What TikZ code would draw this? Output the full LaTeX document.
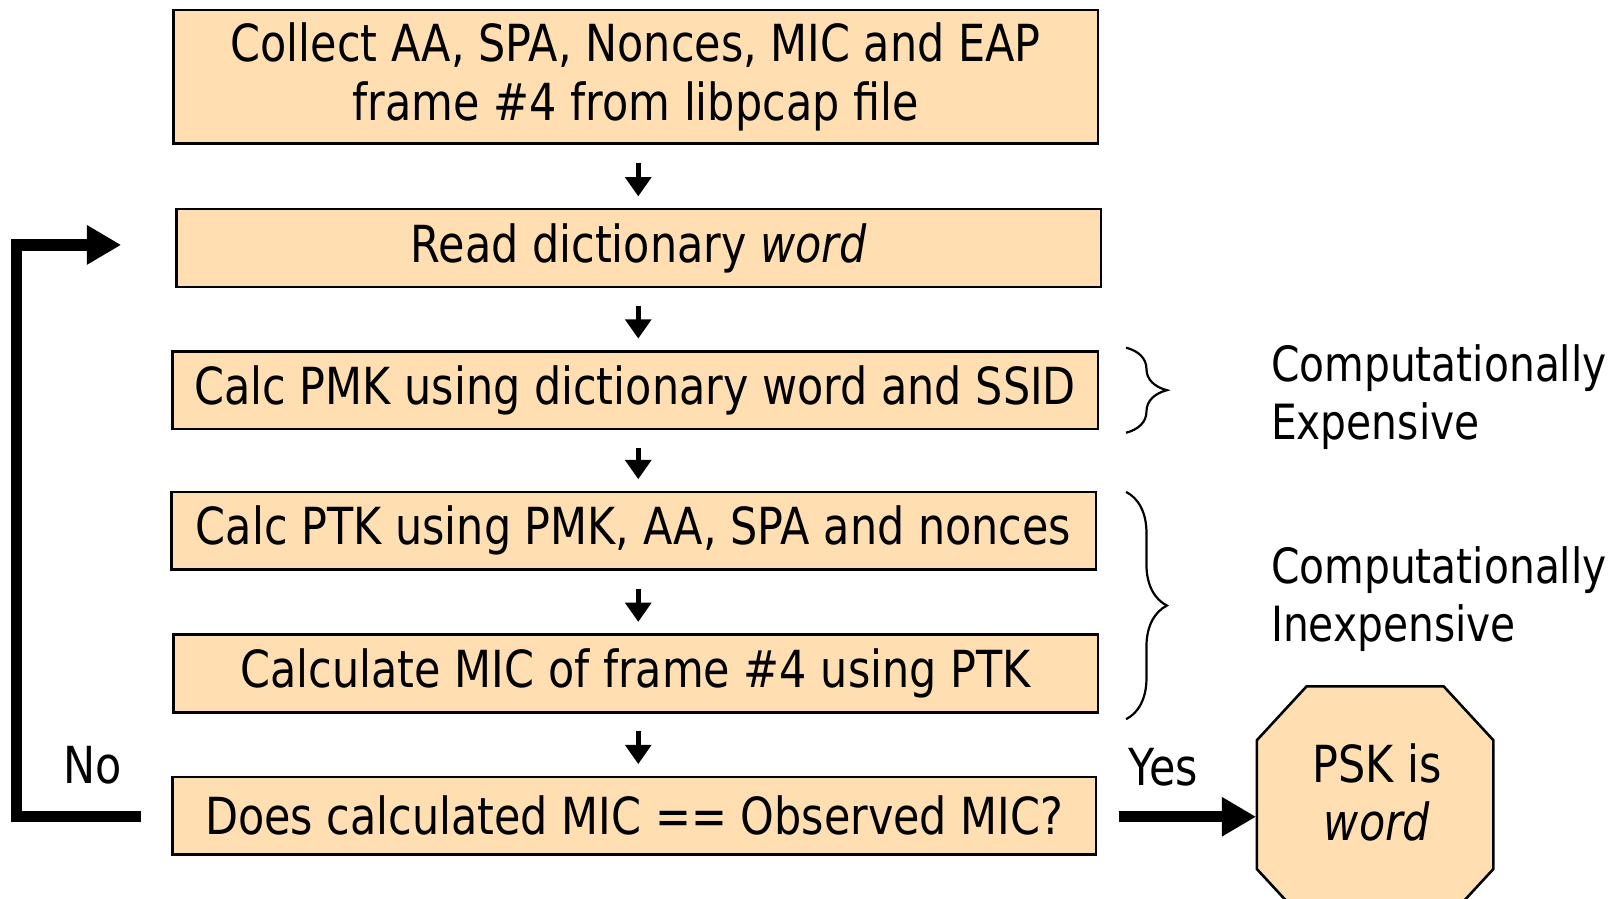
\documentclass[tikz,border=0pt]{standalone}
\usepackage{fontspec}
\setmainfont{DejaVu Sans}[FakeStretch=0.84]
\usetikzlibrary{arrows.meta,calc,decorations.pathreplacing}
\definecolor{boxfill}{RGB}{255,223,178}
\begin{document}
\begin{tikzpicture}[x=0.01cm,y=0.01cm,
  txt/.style={font=\fontsize{14pt}{16pt}\selectfont, inner sep=0pt},
  sidetxt/.style={font=\fontsize{13.3pt}{16pt}\selectfont, inner sep=0pt, anchor=west, align=left},
  stepbox/.style={txt, draw=black, line width=0.7pt, fill=boxfill, minimum height=75*0.01cm, align=center},
  smallarrow/.style={line width=1.3pt, -{Triangle[width=7pt,length=5.3pt]}, shorten <=0.17cm, shorten >=0.11cm},
  bigarrow/.style={line width=3.1pt, -{Triangle[width=10.2pt,length=9.4pt]}},
  bracestyle/.style={line width=0.6pt, decorate, decoration={brace, amplitude=11.2pt}}
]
\useasboundingbox (0,0) rectangle (1560,865.3);

\node[stepbox, minimum width=891*0.01cm, minimum height=129*0.01cm] (b1) at (612.5,791.3)
  {Collect AA, SPA, Nonces, MIC and EAP\\frame \#4 from libpcap file};
\node[stepbox, minimum width=891*0.01cm] (b2) at (615.5,626.3) {Read dictionary \textit{word}};
\node[stepbox, minimum width=892*0.01cm] (b3) at (612,489.3) {Calc PMK using dictionary word and SSID};
\node[stepbox, minimum width=891*0.01cm] (b4) at (610.5,353.8) {Calc PTK using PMK, AA, SPA and nonces};
\node[stepbox, minimum width=891*0.01cm] (b5) at (612.5,216.3) {Calculate MIC of frame \#4 using PTK};
\node[stepbox, minimum width=890*0.01cm] (b6) at (611,79.3) {Does calculated MIC == Observed MIC?};

\draw[smallarrow] (b1.south -| 615,0) -- (b2.north -| 615,0);
\draw[smallarrow] (b2.south -| 615,0) -- (b3.north -| 615,0);
\draw[smallarrow] (b3.south -| 615,0) -- (b4.north -| 615,0);
\draw[smallarrow] (b4.south -| 615,0) -- (b5.north -| 615,0);
\draw[smallarrow] (b5.south -| 615,0) -- (b6.north -| 615,0);

% octagon result node
\node[minimum width=228*0.01cm, minimum height=228*0.01cm, inner sep=0pt] (psk) at (1325,90) {};
\fill[boxfill] ($(psk.center)+(-66,114)$) -- ($(psk.center)+(66,114)$) -- ($(psk.center)+(114,62)$) -- ($(psk.center)+(114,-62)$) -- ($(psk.center)+(66,-114)$) -- ($(psk.center)+(-66,-114)$) -- ($(psk.center)+(-114,-62)$) -- ($(psk.center)+(-114,62)$) -- cycle;
\draw[line width=0.7pt] ($(psk.center)+(-66,114)$) -- ($(psk.center)+(66,114)$) -- ($(psk.center)+(114,62)$) -- ($(psk.center)+(114,-62)$) -- ($(psk.center)+(66,-114)$) -- ($(psk.center)+(-66,-114)$) -- ($(psk.center)+(-114,-62)$) -- ($(psk.center)+(-114,62)$) -- cycle;
\node[txt, align=center] (psktext) at ($(psk.center)+(2,12)$) {PSK is\\\textit{word}};

% loop back (No)
\coordinate (noStart) at ($(b6.west)+(-29,-1)$);
\coordinate (noEnd) at ($(b2.west)+(-52,3)$);
\coordinate (loopX) at (16,0);
\draw[bigarrow] (noStart) -- (noStart -| loopX) -- (noEnd -| loopX) -- (noEnd);
\node[txt, anchor=base] (nolabel) at (89.5,110.3) {No};

% Yes arrow
\coordinate (yesStart) at ($(b6.east)+(21,-1)$);
\draw[bigarrow] (yesStart) -- (yesStart -| psk.west);
\node[txt, anchor=base] (yeslabel) at (1121,108.3) {Yes};

% braces
\coordinate (br1t) at (1085,530.3);
\coordinate (br1b) at (1085,448.3);
\coordinate (br2t) at (1085,391.3);
\coordinate (br2b) at (1085,172.3);
\draw[bracestyle] (br1t) -- (br1b);
\draw[bracestyle] (br2t) -- (br2b);
\node[sidetxt] (expensive) at (1224,482.8) {Computationally\\Expensive};
\node[sidetxt] (inexpensive) at (1224,287.8) {Computationally\\Inexpensive};
\end{tikzpicture}
\end{document}
